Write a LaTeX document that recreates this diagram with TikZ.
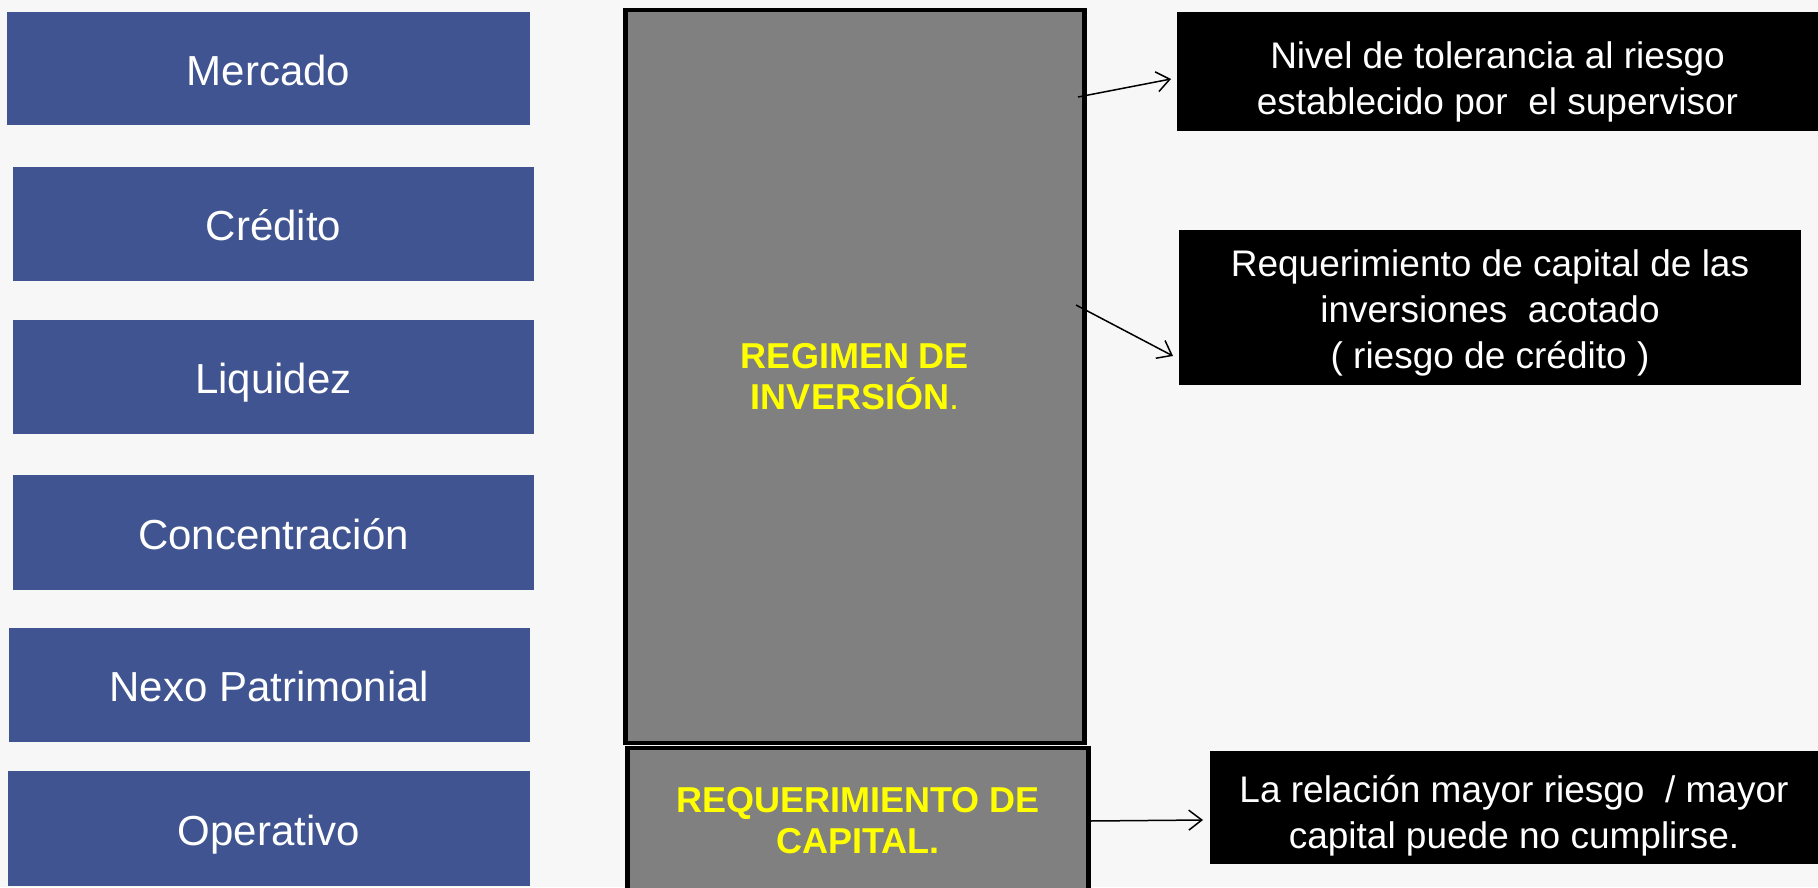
\documentclass[tikz,border=0pt]{standalone}
\usepackage{fontspec}
\usepackage{graphicx}
\setmainfont{Liberation Sans}
\usetikzlibrary{arrows.meta,calc}
\definecolor{bgc}{HTML}{F7F7F7}
\definecolor{riskblue}{HTML}{3F5490}
\definecolor{boxgray}{HTML}{808080}
\definecolor{ylw}{HTML}{FFFF00}
\newcommand\lowertext[2]{\raisebox{-#1}[\height][\depth]{\begin{tabular}{@{}c@{}}#2\end{tabular}}}
\begin{document}
\begin{tikzpicture}[x=1pt,y=-1pt,
  risk/.style={fill=riskblue, text=white, inner sep=0pt, outer sep=0pt,
    text height=40pt, text depth=7pt,
    font=\fontsize{42}{48}\selectfont},
  pillar/.style={draw=black, line width=4.5pt, fill=boxgray, text=ylw, align=center,
    inner sep=0pt, font=\fontsize{36}{41}\selectfont\bfseries},
  note/.style={fill=black, text=white, inner sep=0pt, outer sep=0pt,
    font=\fontsize{37}{46}\selectfont},
  conn/.style={draw=black, line width=1.5pt, -{Straight Barb[length=13pt,width=20pt,line width=1.5pt]}}]
\fill[bgc] (0,0) rectangle (1818,887);
\useasboundingbox (0,0) rectangle (1818,887);
\clip (0,0) rectangle (1818,887);

% left risk boxes
\node[risk, minimum width=523pt, minimum height=113pt] (mercado) at (268.5,68.5) {Mercado};
\node[risk, minimum width=521pt, minimum height=114pt] (credito) at (273.5,224) {Crédito};
\node[risk, minimum width=521pt, minimum height=114pt] (liquidez) at (273.5,377) {Liquidez};
\node[risk, minimum width=521pt, minimum height=115pt] (concent) at (273.5,532.5) {Concentración};
\node[risk, minimum width=521pt, minimum height=114pt] (nexo) at (269.5,685) {Nexo Patrimonial};
\node[risk, minimum width=522pt, minimum height=115pt] (operativo) at (269,828.5) {Operativo};

% central pillars
\node[pillar, minimum width=459pt, minimum height=733pt] (regimen) at (855,376.5)
  {REGIMEN DE\\INVERSIÓN{\mdseries .}};
\node[pillar, minimum width=461pt, minimum height=150pt, text depth=6pt] (reqcap) at (858,823)
  {REQUERIMIENTO DE\\CAPITAL.};

% right notes
\node[note, minimum width=641pt, minimum height=119pt] (tol) at (1497.5,71.5)
  {\lowertext{11pt}{Nivel de tolerancia al riesgo\\establecido por\ \ el supervisor}};
\node[note, minimum width=622pt, minimum height=155pt] (inv) at (1490,307.5)
  {\lowertext{6pt}{Requerimiento de capital de las\\inversiones\ \ acotado\\( riesgo de crédito )}};
\node[note, minimum width=608pt, minimum height=113pt] (rel) at (1514,807.5)
  {\lowertext{8.5pt}{La relación mayor riesgo\ \ / mayor\\capital puede no cumplirse.}};

% connectors
\coordinate (s1) at (1078,97);
\coordinate (s2) at (1076,305);
\coordinate (s3) at (1090,821);
\draw[conn] (s1) -- ($(tol.west)+(-6,7.5)$);
\draw[conn] (s2) -- ($(inv.west)+(-6,48.5)$);
\draw[conn] (s3) -- ($(rel.west)+(-7,12.5)$);
\end{tikzpicture}
\end{document}
